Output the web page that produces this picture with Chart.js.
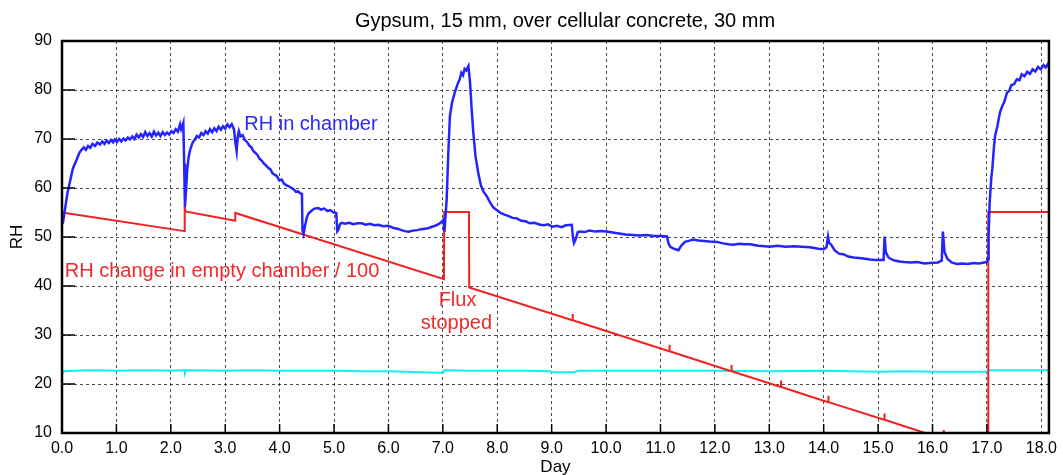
<!DOCTYPE html>
<html>
<head>
<meta charset="utf-8">
<script src="https://cdn.jsdelivr.net/npm/chart.js@4.4.1/dist/chart.umd.min.js"></script>
<style>
  html, body { margin: 0; padding: 0; background: #fff; }
  #chart { display: block; }
</style>
</head>
<body>
<canvas id="chart" width="1063" height="475"></canvas>
<script>
const CHART_TITLE = "Gypsum, 15 mm, over cellular concrete, 30 mm";
const X_TITLE = "Day";
const Y_TITLE = "RH";
const X_TICKS = [0, 1, 2, 3, 4, 5, 6, 7, 8, 9, 10, 11, 12, 13, 14, 15, 16, 17, 18];
const Y_TICKS = [10, 20, 30, 40, 50, 60, 70, 80, 90];

// RH in chamber (blue)
const blueDays = [
	0.00, 0.02, 0.06, 0.10, 0.15, 0.20, 0.27, 0.32, 0.36, 0.40, 0.44, 0.48, 0.52, 0.56, 0.61, 0.65, 0.70, 0.74, 0.78, 0.82,
	0.86, 0.90, 0.94, 0.97, 1.01, 1.05, 1.09, 1.13, 1.17, 1.21, 1.25, 1.29, 1.33, 1.37, 1.41, 1.45, 1.49, 1.53, 1.57, 1.61,
	1.65, 1.69, 1.73, 1.77, 1.81, 1.85, 1.89, 1.93, 1.97, 2.01, 2.05, 2.09, 2.13, 2.17, 2.19, 2.21, 2.23, 2.245, 2.26, 2.28,
	2.30, 2.33, 2.36, 2.40, 2.44, 2.48, 2.52, 2.56, 2.60, 2.64, 2.68, 2.72, 2.76, 2.80, 2.84, 2.88, 2.92, 2.96, 3.00, 3.04,
	3.08, 3.12, 3.16, 3.19, 3.21, 3.23, 3.25, 3.28, 3.32, 3.36, 3.40, 3.44, 3.48, 3.52, 3.55, 3.59, 3.63, 3.67, 3.71, 3.75,
	3.79, 3.83, 3.87, 3.91, 3.95, 3.99, 4.04, 4.08, 4.12, 4.16, 4.22, 4.26, 4.30, 4.34, 4.38, 4.41, 4.42, 4.44, 4.47, 4.50,
	4.53, 4.58, 4.64, 4.71, 4.76, 4.82, 4.88, 4.93, 4.98, 5.04, 5.06, 5.08, 5.11, 5.14, 5.20, 5.28, 5.35, 5.43, 5.51, 5.58,
	5.66, 5.74, 5.82, 5.90, 6.00, 6.08, 6.16, 6.24, 6.30, 6.37, 6.45, 6.53, 6.60, 6.67, 6.73, 6.80, 6.86, 6.92, 6.97, 7.01,
	7.03, 7.05, 7.07, 7.10, 7.13, 7.17, 7.22, 7.28, 7.31, 7.34, 7.37, 7.40, 7.43, 7.47, 7.50, 7.53, 7.56, 7.60, 7.65, 7.70,
	7.75, 7.81, 7.87, 7.93, 7.99, 8.05, 8.12, 8.20, 8.28, 8.36, 8.44, 8.52, 8.60, 8.68, 8.79, 8.86, 8.93, 9.01, 9.10, 9.18,
	9.26, 9.37, 9.39, 9.41, 9.44, 9.48, 9.52, 9.60, 9.70, 9.80, 9.90, 10.01, 10.12, 10.24, 10.36, 10.50, 10.62, 10.75, 10.88, 11.00,
	11.12, 11.15, 11.18, 11.25, 11.33, 11.38, 11.45, 11.52, 11.60, 11.70, 11.80, 11.90, 12.04, 12.15, 12.25, 12.34, 12.45, 12.55, 12.65, 12.80,
	12.92, 13.01, 13.15, 13.30, 13.45, 13.60, 13.75, 13.90, 14.00, 14.05, 14.08, 14.10, 14.14, 14.20, 14.28, 14.36, 14.45, 14.55, 14.65, 14.73,
	14.85, 14.95, 15.10, 15.12, 15.14, 15.18, 15.22, 15.30, 15.40, 15.47, 15.60, 15.72, 15.85, 15.95, 16.10, 16.17, 16.19, 16.22, 16.27, 16.35,
	16.45, 16.55, 16.65, 16.75, 16.85, 16.95, 17.00, 17.02, 17.03, 17.05, 17.08, 17.10, 17.13, 17.15, 17.19, 17.24, 17.28, 17.32, 17.37, 17.41,
	17.45, 17.50, 17.55, 17.60, 17.64, 17.69, 17.74, 17.79, 17.84, 17.89, 17.94, 17.99, 18.04, 18.08, 18.12, 18.14,
];
const blueRH = [
	52.6, 53.1, 56.0, 59.0, 61.5, 64.0, 65.8, 67.2, 67.8, 68.3, 67.8, 68.6, 68.2, 69.0, 68.6, 69.3, 68.9, 69.5, 69.0, 69.7,
	69.2, 69.8, 69.3, 69.9, 69.4, 70.0, 69.5, 70.1, 69.7, 70.3, 69.9, 70.5, 70.0, 70.9, 70.3, 71.0, 70.4, 71.4, 70.6, 71.2,
	70.5, 71.5, 70.7, 71.3, 70.6, 71.4, 70.8, 71.3, 70.9, 71.6, 71.2, 72.0, 71.5, 73.0, 72.0, 72.6, 73.3, 65.0, 56.2, 59.5,
	63.5, 66.5, 68.0, 69.2, 69.9, 70.6, 70.3, 71.2, 70.8, 71.6, 71.1, 72.0, 71.4, 72.2, 71.6, 72.5, 71.9, 72.6, 72.1, 73.0,
	72.4, 73.0, 72.0, 69.0, 67.5, 70.5, 71.6, 70.5, 70.8, 69.8, 69.4, 68.7, 68.3, 67.5, 67.2, 66.8, 66.0, 65.6, 65.0, 64.6,
	64.1, 63.8, 63.0, 62.7, 62.4, 61.6, 61.7, 60.9, 60.6, 60.4, 60.0, 59.7, 59.2, 59.3, 58.9, 58.8, 51.4, 50.6, 52.5, 54.0,
	54.8, 55.3, 55.8, 55.9, 55.6, 55.8, 55.3, 55.5, 55.1, 54.9, 51.2, 51.5, 52.6, 52.9, 52.7, 52.9, 52.6, 52.8, 52.8, 52.5,
	52.7, 52.4, 52.5, 52.2, 52.3, 51.9, 51.7, 51.4, 51.2, 51.1, 51.3, 51.4, 51.6, 51.7, 51.8, 52.1, 52.3, 52.6, 53.0, 53.5,
	51.1, 54.5, 57.6, 67.0, 74.7, 77.5, 79.5, 81.5, 82.2, 83.5, 83.0, 84.3, 84.0, 84.9, 81.5, 76.0, 71.3, 66.5, 63.1, 60.5,
	59.2, 58.3, 57.0, 56.0, 55.5, 55.0, 54.6, 54.3, 53.9, 53.8, 53.3, 53.2, 52.8, 52.9, 52.5, 52.4, 52.6, 52.1, 52.3, 52.0,
	52.4, 52.5, 50.0, 48.8, 49.5, 51.0, 51.1, 51.0, 51.3, 51.1, 51.2, 51.1, 50.9, 50.7, 50.5, 50.4, 50.3, 50.4, 50.2, 50.2,
	50.1, 48.6, 48.0, 47.6, 47.3, 48.2, 49.0, 49.2, 49.5, 49.3, 49.2, 49.1, 49.0, 48.7, 48.5, 48.4, 48.6, 48.5, 48.5, 48.2,
	48.1, 48.0, 48.2, 48.0, 48.1, 48.0, 47.9, 47.6, 47.5, 47.9, 50.1, 48.8, 48.4, 47.3, 46.6, 46.5, 46.0, 45.8, 45.7, 45.6,
	45.4, 45.3, 45.3, 50.1, 47.0, 46.0, 45.6, 45.2, 45.0, 44.9, 44.8, 44.9, 44.6, 44.7, 44.8, 45.2, 51.1, 47.0, 45.6, 44.8,
	44.5, 44.6, 44.5, 44.7, 44.6, 44.8, 44.9, 45.5, 50.0, 56.9, 62.0, 64.0, 68.5, 70.6, 72.5, 75.4, 76.7, 77.6, 79.5, 79.8,
	81.0, 81.2, 82.2, 82.0, 83.2, 82.8, 83.7, 83.3, 84.2, 83.8, 84.7, 84.2, 85.1, 84.6, 85.3, 84.8,
];

// RH change in empty chamber / 100 (red)
const redDays = [
	0.00, 2.25, 2.255, 2.27, 3.18, 3.185, 7.02, 7.025, 7.48, 7.485,
	9.38, 9.385, 9.39, 11.16, 11.165, 11.17, 12.30, 12.305, 12.31, 13.21, 13.215, 13.22,
	14.08, 14.085, 14.09, 15.11, 15.115, 15.12, 16.20, 16.205, 16.21, 17.02, 17.025, 18.14,
];
const redRH = [
	55.0, 51.2, 56.4, 55.2, 53.3, 54.9, 41.4, 55.1, 55.1, 39.7,
	33.0, 34.3, 33.0, 26.7, 28.0, 26.7, 22.6, 23.9, 22.6, 19.4, 20.7, 19.4,
	16.3, 17.6, 16.3, 12.7, 14.0, 12.7, 8.8, 10.6, 8.8, 5.9, 55.1, 55.1,
];

// cyan baseline
const cyanDays = [
	0.00, 0.03, 0.5, 1.0, 1.5, 2.0, 2.25, 2.26, 2.28, 3.0, 3.5, 4.0, 4.5, 5.0, 5.5, 6.0, 6.3, 6.6, 6.9, 7.0,
	7.03, 7.5, 8.0, 8.5, 8.97, 9.0, 9.4, 9.5, 10.0, 11.0, 12.0, 13.0, 14.0, 14.5, 15.0, 15.5, 16.0, 16.5, 17.0, 17.03, 18.14,
];
const cyanRH = [
	21.9, 22.6, 22.8, 22.7, 22.8, 22.7, 22.8, 22.2, 22.8, 22.7, 22.8, 22.7, 22.7, 22.7, 22.6, 22.6, 22.5, 22.4, 22.3, 22.3,
	22.8, 22.7, 22.7, 22.7, 22.6, 22.4, 22.4, 22.7, 22.7, 22.7, 22.7, 22.6, 22.7, 22.6, 22.5, 22.6, 22.5, 22.5, 22.5, 22.8, 22.8,
];

const ANNOTATIONS = [
	{ text: "RH in chamber", day: 3.35, rh: 72.9, color: "#2b2bf5", align: "left" },
	{ text: "RH change in empty chamber / 100", day: 0.05, rh: 42.9, color: "#f02a2a", align: "left" },
	{ text: "Flux", day: 7.27, rh: 37.1, color: "#f02a2a", align: "center" },
	{ text: "stopped", day: 7.25, rh: 32.4, color: "#f02a2a", align: "center" },
];

const FONT = "'Liberation Sans', Arial, sans-serif";
const toPoints = (xs, ys) => xs.map((x, i) => ({ x, y: ys[i] }));

const frameAndLabels = {
	id: "frameAndLabels",
	afterDatasetsDraw(chart) {
		const { ctx, chartArea: a, scales: { x, y } } = chart;
		ctx.save();
		// inward tick marks, left and bottom
		ctx.strokeStyle = "#000";
		ctx.lineWidth = 1.5;
		ctx.beginPath();
		Y_TICKS.slice(1, -1).forEach((v) => {
			const py = y.getPixelForValue(v);
			ctx.moveTo(a.left, py);
			ctx.lineTo(a.left + 13, py);
		});
		X_TICKS.slice(1, -1).forEach((v) => {
			const px = x.getPixelForValue(v);
			ctx.moveTo(px, a.bottom);
			ctx.lineTo(px, a.bottom - 9);
		});
		ctx.stroke();
		ctx.lineWidth = 2.5;
		ctx.strokeRect(a.left, a.top, a.right - a.left, a.bottom - a.top);

		// in-plot labels
		ctx.font = "20px " + FONT;
		ctx.textBaseline = "middle";
		ANNOTATIONS.forEach((l) => {
			ctx.fillStyle = l.color;
			ctx.textAlign = l.align;
			ctx.fillText(l.text, x.getPixelForValue(l.day), y.getPixelForValue(l.rh));
		});

		// titles
		ctx.fillStyle = "#000";
		ctx.textAlign = "center";
		ctx.font = "20px " + FONT;
		ctx.fillText(CHART_TITLE, 565, 21);
		ctx.font = "17px " + FONT;
		ctx.fillText(X_TITLE, (a.left + a.right) / 2, 467);
		ctx.translate(17, (a.top + a.bottom) / 2);
		ctx.rotate(-Math.PI / 2);
		ctx.fillText(Y_TITLE, 0, 0);
		ctx.restore();
	},
};

const lineStyle = {
	showLine: true,
	pointRadius: 0,
	borderWidth: 2,
	tension: 0,
	fill: false,
};

new Chart(document.getElementById("chart"), {
	type: "scatter",
	data: {
		datasets: [
			{ ...lineStyle, label: "RH in chamber", data: toPoints(blueDays, blueRH), borderColor: "#2424ff", borderWidth: 2.5 },
			{ ...lineStyle, label: "RH change in empty chamber / 100", data: toPoints(redDays, redRH), borderColor: "#f22020" },
			{ ...lineStyle, label: "Baseline", data: toPoints(cyanDays, cyanRH), borderColor: "#12eef2" },
		],
	},
	options: {
		responsive: false,
		animation: false,
		layout: { padding: { top: 41, right: 14, left: 0, bottom: 0 } },
		plugins: {
			legend: { display: false },
			title: { display: false },
			tooltip: { enabled: false },
		},
		scales: {
			x: {
				type: "linear",
				min: 0,
				max: 18.14,
				afterBuildTicks: (scale) => {
					scale.ticks = X_TICKS.map((value) => ({ value }));
				},
				afterFit: (scale) => {
					scale.height = 42;
				},
				ticks: {
					autoSkip: false,
					maxRotation: 0,
					padding: 6,
					color: "#000",
					font: { family: FONT, size: 16 },
					callback: (v) => Number(v).toFixed(1),
				},
				grid: { color: "rgba(0,0,0,0.7)", lineWidth: 1, drawTicks: false },
				border: { display: false, dash: [3, 3] },
			},
			y: {
				type: "linear",
				min: 10,
				max: 90,
				afterBuildTicks: (scale) => {
					scale.ticks = Y_TICKS.map((value) => ({ value }));
				},
				afterFit: (scale) => {
					scale.width = 62;
				},
				ticks: {
					padding: 10,
					color: "#000",
					font: { family: FONT, size: 16 },
				},
				grid: { color: "rgba(0,0,0,0.7)", lineWidth: 1, drawTicks: false },
				border: { display: false, dash: [3, 3] },
			},
		},
	},
	plugins: [frameAndLabels],
});
</script>
</body>
</html>
